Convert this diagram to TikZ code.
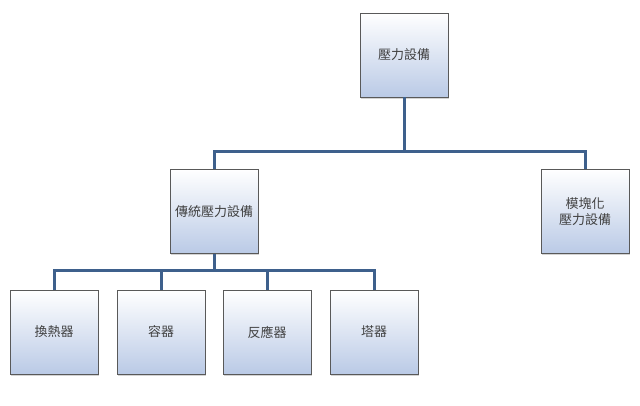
\documentclass[tikz,border=0pt]{standalone}
\usepackage{fontspec}
\newfontfamily\cjk{Noto Sans CJK TC}
\usetikzlibrary{shadows}
\definecolor{ln}{RGB}{62,96,140}
\definecolor{bt}{RGB}{186,202,230}
\tikzset{box/.style={draw=gray!70!black, line width=0.6pt, top color=white, bottom color=bt, minimum width=88pt, minimum height=84pt, inner sep=2pt, font=\cjk\fontsize{13}{16}\selectfont, text=black!75, align=center, drop shadow={opacity=0.35, shadow xshift=1pt, shadow yshift=-2pt}},
conn/.style={draw=ln, line width=3pt}}
\begin{document}
\begin{tikzpicture}[x=1pt,y=-1pt]
\useasboundingbox (0,0) rectangle (640,406);
\node[box] (root) at (404,55) {壓力設備};
\node[box] (trad) at (214,211.5) {傳統壓力設備};
\node[box] (mod) at (585,211.5) {模塊化\\壓力設備};
\node[box] (a) at (54,332) {換熱器};
\node[box] (b) at (161,332) {容器};
\node[box] (c) at (267,332) {反應器};
\node[box] (d) at (374,332) {塔器};
\coordinate (j1) at (404,152);
\coordinate (j2) at (214,270);
\draw[conn] (root.south) -- (j1);
\draw[conn] (trad.north) |- (j1) -| (mod.north);
\draw[conn] (trad.south) -- (j2);
\draw[conn] (a.north) |- (j2) -| (d.north);
\draw[conn] (b.north) -- (b.north |- j2);
\draw[conn] (c.north) -- (c.north |- j2);
\end{tikzpicture}
\end{document}
